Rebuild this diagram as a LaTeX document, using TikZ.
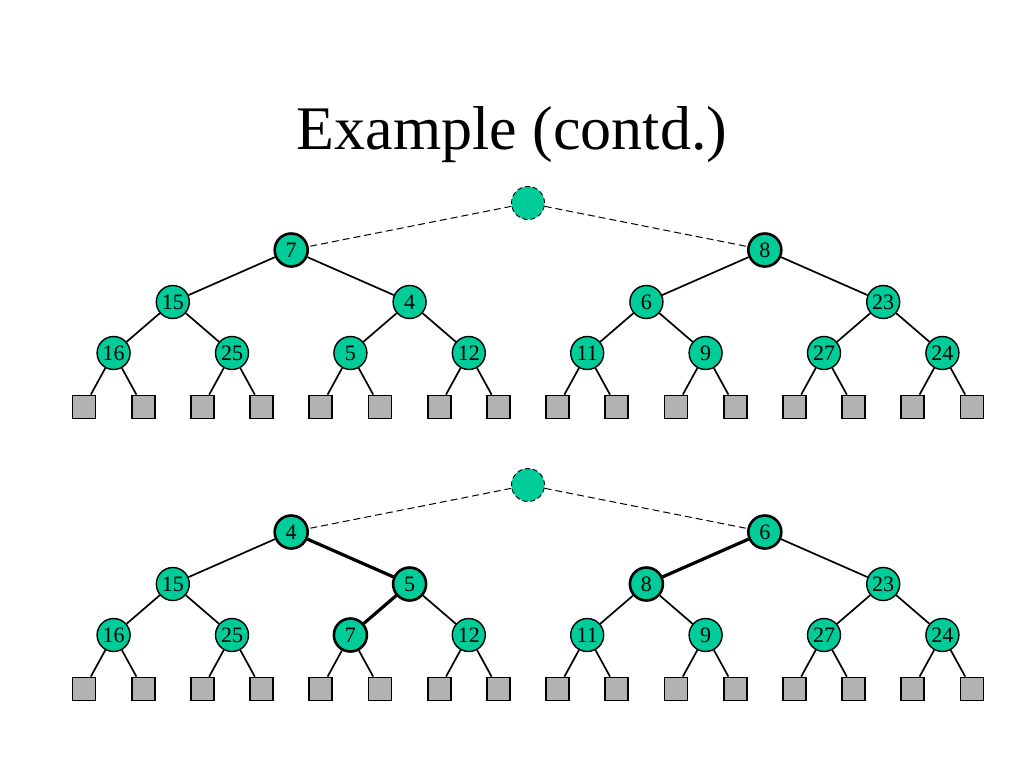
\documentclass[tikz,border=0pt]{standalone}
\usepackage{fontspec}
\setmainfont{Liberation Serif}
\definecolor{keyteal}{RGB}{0,204,153}
\definecolor{extgray}{RGB}{178,178,178}
\begin{document}
\begin{tikzpicture}[x=1pt,y=-1pt,
  key/.style={circle, draw, fill=keyteal, line width=1.4pt, inner sep=0pt,
    minimum size=33pt, font=\fontsize{22}{22}\selectfont},
  hkey/.style={key, line width=2.6pt},
  rootkey/.style={key, line width=0.9pt, dash pattern=on 5pt off 3pt},
  ext/.style={rectangle, draw, fill=extgray, line width=1.8pt,
    inner sep=0pt, minimum size=23pt},
  link/.style={line width=1.7pt},
  hlink/.style={line width=3.2pt},
  dlink/.style={line width=1pt, dash pattern=on 7pt off 4pt}]
  \useasboundingbox (0,0) rectangle (1024,768);
  \node (title) at (512,135) {\fontsize{62}{62}\selectfont Example (contd.)};

  % upper tree
  \node[rootkey] (t1) at (528,203) {};
  \foreach \i/\lab in {2/7, 3/8}
    \node[hkey] (t\i) at ({291.2+473.6*(\i-2)},250) {\lab};
  \foreach \i/\lab in {4/15, 5/4, 6/6, 7/23}
    \node[key] (t\i) at ({172.8+236.8*(\i-4)},302) {\lab};
  \foreach \i/\lab in {8/16, 9/25, 10/5, 11/12, 12/11, 13/9, 14/27, 15/24}
    \node[key] (t\i) at ({113.6+118.4*(\i-8)},353) {\lab};
  \foreach \i in {16,...,31}
    \node[ext] (t\i) at ({84+59.2*(\i-16)},407) {};

  \draw[dlink] (t1) -- (t2);
  \draw[dlink] (t1) -- (t3);
  \foreach \i in {4,...,31} {
    \pgfmathtruncatemacro{\up}{\i/2}
    \draw[link] (t\up) -- (t\i);
  }

  % lower tree
  \node[rootkey] (b1) at (528,485) {};
  \foreach \i/\lab in {2/4, 3/6}
    \node[hkey] (b\i) at ({291.2+473.6*(\i-2)},532) {\lab};
  \foreach \i/\lab/\s in {4/15/key, 5/5/hkey, 6/8/hkey, 7/23/key}
    \node[\s] (b\i) at ({172.8+236.8*(\i-4)},584) {\lab};
  \foreach \i/\lab/\s in {8/16/key, 9/25/key, 10/7/hkey, 11/12/key,
                          12/11/key, 13/9/key, 14/27/key, 15/24/key}
    \node[\s] (b\i) at ({113.6+118.4*(\i-8)},635) {\lab};
  \foreach \i in {16,...,31}
    \node[ext] (b\i) at ({84+59.2*(\i-16)},689) {};

  \draw[dlink] (b1) -- (b2);
  \draw[dlink] (b1) -- (b3);
  \foreach \i/\s in {4/link, 5/hlink, 6/hlink, 7/link, 8/link, 9/link,
                     10/hlink, 11/link, 12/link, 13/link, 14/link, 15/link} {
    \pgfmathtruncatemacro{\up}{\i/2}
    \draw[\s] (b\up) -- (b\i);
  }
  \foreach \i in {16,...,31} {
    \pgfmathtruncatemacro{\up}{\i/2}
    \draw[link] (b\up) -- (b\i);
  }
\end{tikzpicture}
\end{document}
